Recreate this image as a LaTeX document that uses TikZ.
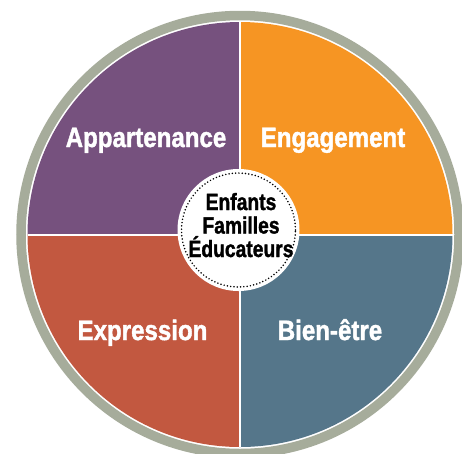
\documentclass[tikz,border=0pt]{standalone}
\usepackage{fontspec}
\usepackage{graphicx}
\setmainfont{Liberation Sans}[BoldFeatures={FakeBold=1.6}]
\newcommand\narrowq[1]{\scalebox{0.86}[1]{\bfseries #1}}
\newcommand\narrowh[1]{\scalebox{0.82}[1]{\bfseries #1}}
\definecolor{ringgray}{HTML}{A6AC9B}
\definecolor{cpurple}{HTML}{76517E}
\definecolor{corange}{HTML}{F69523}
\definecolor{cred}{HTML}{C25840}
\definecolor{cblue}{HTML}{55768A}
\tikzset{
  quadlabel/.style={text=white, font=\fontsize{28}{30}\selectfont, anchor=base, inner sep=0},
  hublabel/.style={text=black, font=\fontsize{23.5}{25}\selectfont, anchor=base, inner sep=0},
  divider/.style={white, line width=2pt},
}
\begin{document}
\begin{tikzpicture}[x=1pt,y=-1pt]
\useasboundingbox (0,0) rectangle (462,453);
\fill[white] (0,0) rectangle (462,453);
\coordinate (O) at (240,234.5);
% outer ring
\draw[ringgray, line width=9.5pt] (O) circle[radius=219];
% quadrants (y axis points down: angle 270 is up)
\fill[cpurple] (O) -- ++(-212.5,0) arc[start angle=180, end angle=270, radius=212.5] -- cycle;
\fill[corange] (O) -- ++(0,-212.5) arc[start angle=270, end angle=360, radius=212.5] -- cycle;
\fill[cblue] (O) -- ++(212.5,0) arc[start angle=0, end angle=90, radius=212.5] -- cycle;
\fill[cred] (O) -- ++(0,212.5) arc[start angle=90, end angle=180, radius=212.5] -- cycle;
% dividers
\coordinate (T) at (240,22);
\coordinate (B) at (240,447);
\coordinate (L) at (27.5,234.5);
\coordinate (R) at (452.5,234.5);
\draw[divider] (T) -- (B);
\draw[divider] (L) -- (R);
% hub
\node[circle, fill=white, minimum size=122pt, inner sep=0] (hub) at (238.5,230) {};
\node[circle, draw=black, line width=1.7pt, line cap=round, dash pattern=on 0pt off 3.3pt, minimum size=114pt, inner sep=0] (hubdots) at (hub.center) {};
% labels
\node[quadlabel] (app) at (146,147) {\narrowq{Appartenance}};
\node[quadlabel] (eng) at (333,147) {\narrowq{Engagement}};
\node[quadlabel] (exp) at (142.5,340) {\narrowq{Expression}};
\node[quadlabel] (bien) at (330,340) {\narrowq{Bien-être}};
\node[hublabel] (h1) at (241,210) {\narrowh{Enfants}};
\node[hublabel] (h2) at (241,233.5) {\narrowh{Familles}};
\node[hublabel] (h3) at (241,257) {\narrowh{Éducateurs}};
\end{tikzpicture}
\end{document}
